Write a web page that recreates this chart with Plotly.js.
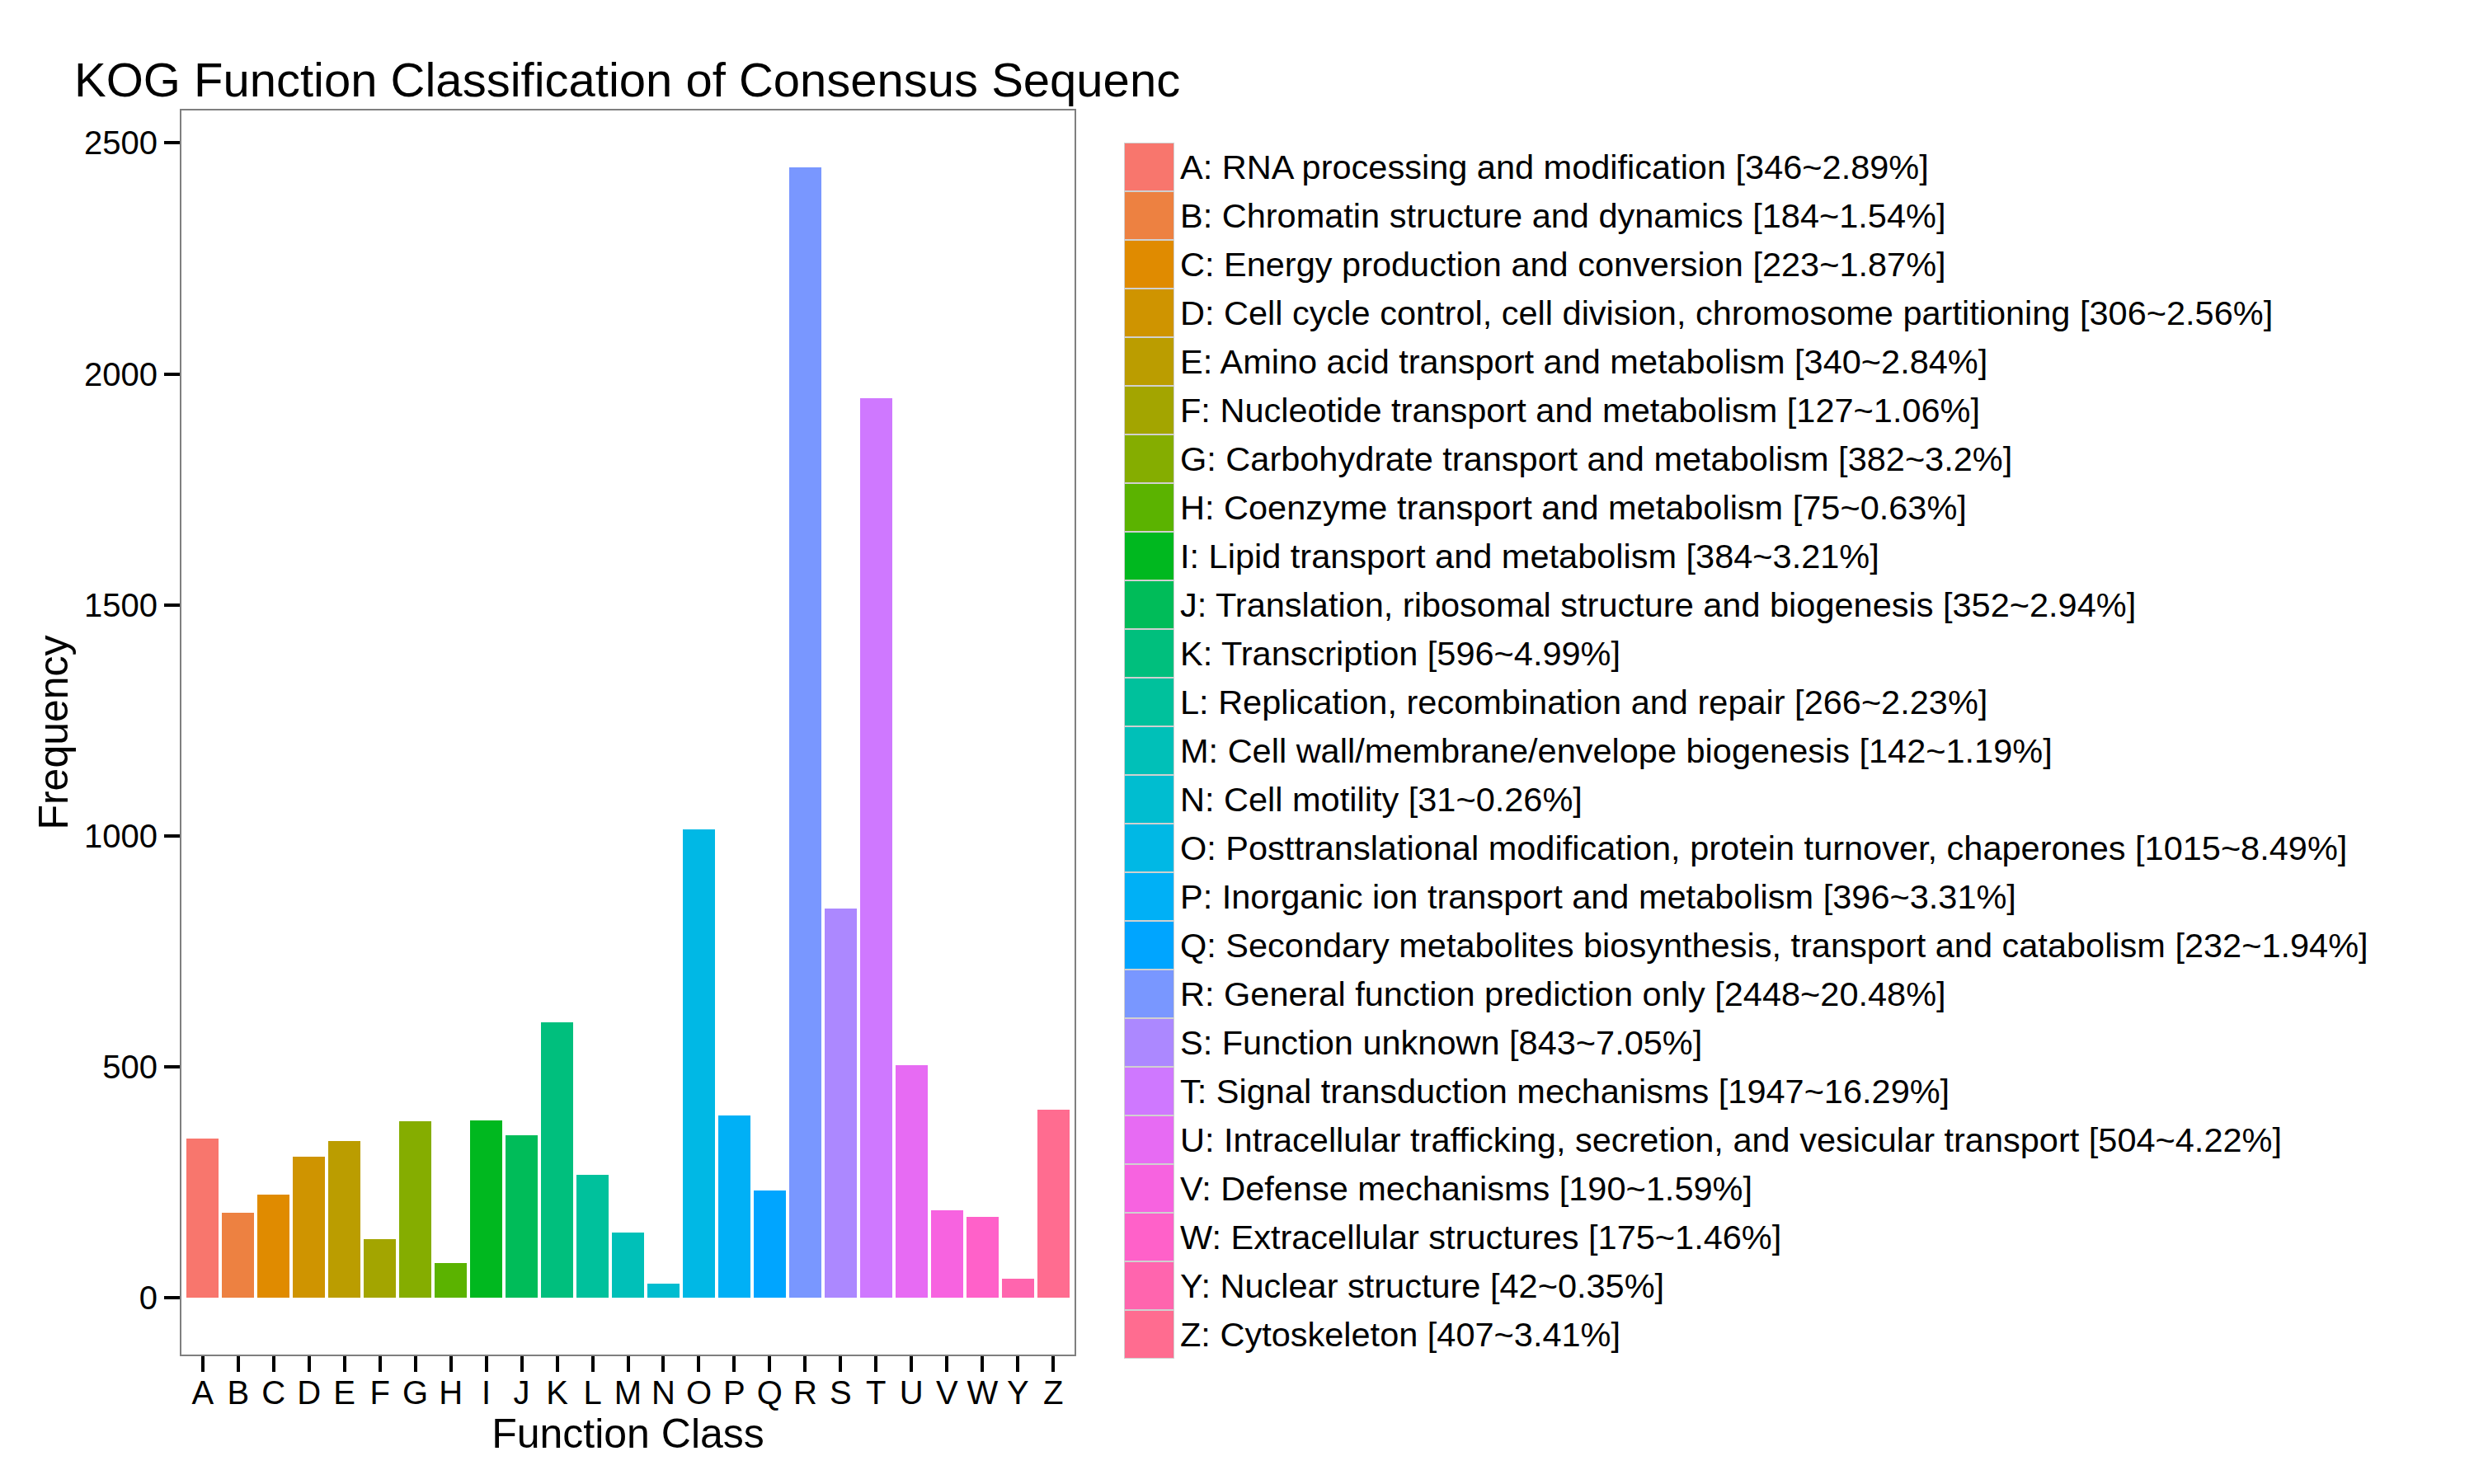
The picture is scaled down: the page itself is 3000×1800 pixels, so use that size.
<!DOCTYPE html>
<html>
<head>
<meta charset="utf-8">
<script src="https://cdn.plot.ly/plotly-3.0.1.min.js"></script>
<style>html,body{margin:0;padding:0;background:#fff;}#chart{width:3000px;height:1800px;}</style>
</head>
<body>
<div id="chart"></div>
<script>
// ---- data ----
const categories = ["A","B","C","D","E","F","G","H","I","J","K","L","M","N","O","P","Q","R","S","T","U","V","W","Y","Z"];
const counts = [346,184,223,306,340,127,382,75,384,352,596,266,142,31,1015,396,232,2448,843,1947,504,190,175,42,407];
const percents = ["2.89","1.54","1.87","2.56","2.84","1.06","3.2","0.63","3.21","2.94","4.99","2.23","1.19","0.26","8.49","3.31","1.94","20.48","7.05","16.29","4.22","1.59","1.46","0.35","3.41"];
const descriptions = [
  "RNA processing and modification",
  "Chromatin structure and dynamics",
  "Energy production and conversion",
  "Cell cycle control, cell division, chromosome partitioning",
  "Amino acid transport and metabolism",
  "Nucleotide transport and metabolism",
  "Carbohydrate transport and metabolism",
  "Coenzyme transport and metabolism",
  "Lipid transport and metabolism",
  "Translation, ribosomal structure and biogenesis",
  "Transcription",
  "Replication, recombination and repair",
  "Cell wall/membrane/envelope biogenesis",
  "Cell motility",
  "Posttranslational modification, protein turnover, chaperones",
  "Inorganic ion transport and metabolism",
  "Secondary metabolites biosynthesis, transport and catabolism",
  "General function prediction only",
  "Function unknown",
  "Signal transduction mechanisms",
  "Intracellular trafficking, secretion, and vesicular transport",
  "Defense mechanisms",
  "Extracellular structures",
  "Nuclear structure",
  "Cytoskeleton"
];
const yTickValues = [0,500,1000,1500,2000,2500];

// ---- ggplot2 default hue palette (hcl) ----
function hcl(h, c, l) {
  const WU = 0.1978398, WV = 0.4683363;
  const hr = h * Math.PI / 180;
  const U = c * Math.cos(hr), V = c * Math.sin(hr);
  const Y = (l > 7.999592) ? Math.pow((l + 16) / 116, 3) : l / 903.3;
  const u = U / (13 * l) + WU, v = V / (13 * l) + WV;
  const X = 9.0 * Y * u / (4 * v);
  const Z = -X / 3 - 5 * Y + 3 * Y / v;
  const g = t => t > 0.00304 ? 1.055 * Math.pow(t, 1 / 2.4) - 0.055 : 12.92 * t;
  const rgb = [
    g(3.240479 * X - 1.537150 * Y - 0.498535 * Z),
    g(-0.969256 * X + 1.875992 * Y + 0.041556 * Z),
    g(0.055648 * X - 0.204043 * Y + 1.057311 * Z)
  ].map(t => Math.round(Math.min(1, Math.max(0, t)) * 255));
  return "#" + rgb.map(t => t.toString(16).padStart(2, "0")).join("");
}
function huePal(n) {
  const out = [];
  const h0 = 15, h1 = 375 - 360 / n;
  for (let i = 0; i < n; i++) {
    const hh = (h0 + (h1 - h0) * i / (n - 1)) % 360;
    out.push(hcl(hh, 100, 65));
  }
  return out;
}
const colors = huePal(categories.length);
const legendLabels = categories.map((c, i) => c + ": " + descriptions[i] + " [" + counts[i] + "~" + percents[i] + "%]");

const FONT = "Liberation Sans, Arial, Helvetica, sans-serif";
const W = 3000, H = 1800;

const bars = {
  type: "bar",
  x: categories,
  y: counts,
  width: 0.9,
  marker: { color: colors, line: { width: 0 } },
  xaxis: "x", yaxis: "y",
  hoverinfo: "x+y",
  showlegend: false
};

const legendKeys = {
  type: "bar",
  orientation: "h",
  y: legendLabels,
  x: legendLabels.map(() => 1),
  width: 1,
  marker: { color: colors, line: { color: "#d0d0d0", width: 2 } },
  xaxis: "x2", yaxis: "y2",
  hoverinfo: "y",
  showlegend: false
};

const layout = {
  width: W, height: H,
  margin: { l: 0, r: 0, t: 0, b: 0 },
  paper_bgcolor: "#ffffff",
  plot_bgcolor: "#ffffff",
  font: { family: FONT, color: "#000000", size: 40 },
  showlegend: false,
  bargap: 0,
  title: {
    text: "KOG Function Classification of Consensus Sequenc",
    font: { family: FONT, size: 58, color: "#000000" },
    x: 90 / W, xanchor: "left", xref: "paper",
    y: 1 - 76 / H, yanchor: "top", yref: "paper"
  },
  xaxis: {
    domain: [220 / W, 1303 / W],
    type: "category",
    categoryorder: "array",
    categoryarray: categories,
    tickmode: "array",
    tickvals: categories,
    ticktext: categories,
    range: [-0.6, categories.length - 0.4],
    showgrid: false, zeroline: false,
    showline: true, linecolor: "#7f7f7f", linewidth: 2, mirror: true,
    ticks: "outside", ticklen: 19, tickwidth: 4, tickcolor: "#000000",
    ticklabelstandoff: -9,
    tickfont: { family: FONT, size: 40, color: "#000000" },
    title: { text: "Function Class", font: { family: FONT, size: 50, color: "#000000" }, standoff: 10 },
    automargin: false,
    fixedrange: true
  },
  yaxis: {
    domain: [1 - 1643 / H, 1 - 134 / H],
    range: [-122.4, 2570.4],
    tickmode: "array",
    tickvals: yTickValues,
    ticktext: yTickValues.map(String),
    showgrid: false, zeroline: false,
    showline: true, linecolor: "#7f7f7f", linewidth: 2, mirror: true,
    ticks: "outside", ticklen: 19, tickwidth: 4, tickcolor: "#000000",
    tickfont: { family: FONT, size: 40, color: "#000000" },
    title: { text: "Frequency", font: { family: FONT, size: 50, color: "#000000" }, standoff: 4 },
    automargin: false,
    fixedrange: true
  },
  xaxis2: {
    domain: [1363 / W, 1424 / W],
    anchor: "y2",
    range: [0, 1],
    visible: false,
    fixedrange: true
  },
  yaxis2: {
    domain: [1 - 1648 / H, 1 - 173 / H],
    anchor: "x2",
    side: "right",
    type: "category",
    categoryorder: "array",
    categoryarray: legendLabels,
    range: [legendLabels.length - 0.5, -0.5],
    showgrid: false, zeroline: false, showline: false,
    ticks: "",
    ticklabelstandoff: 6,
    tickfont: { family: FONT, size: 41.5, color: "#000000" },
    automargin: false,
    fixedrange: true
  }
};

Plotly.newPlot("chart", [bars, legendKeys], layout, { displayModeBar: false, staticPlot: true });
</script>
</body>
</html>
